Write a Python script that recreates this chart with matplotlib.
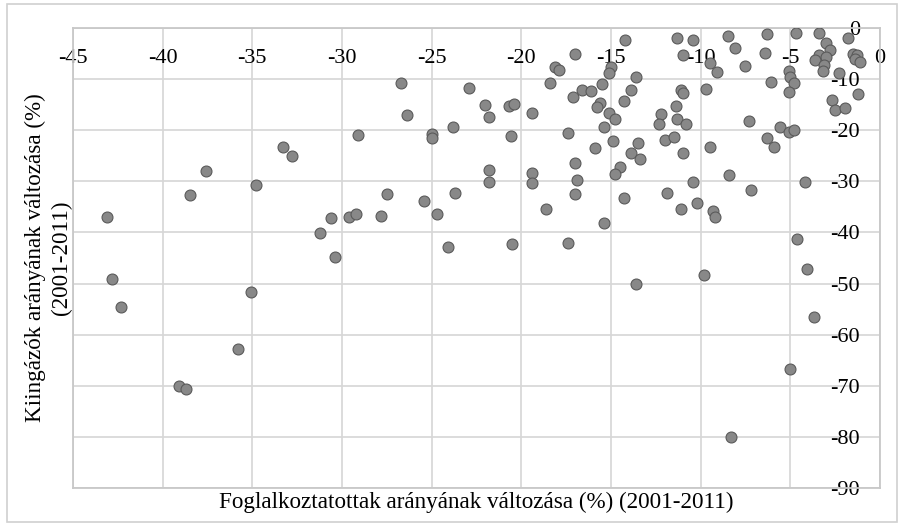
import matplotlib.pyplot as plt
from matplotlib.patches import Rectangle

# Foglalkoztatottak aranyanak valtozasa (%) es Kiingazok aranyanak valtozasa (%)
x_vals = [
    -43.1, -42.8, -42.3, -38.5, -37.6, -39.1, -38.7, -35.8, -35.1, -34.8, -33.3, -32.8,
    -31.2, -30.6, -30.4, -29.6, -29.2, -29.1, -27.8, -27.5, -26.7, -26.4, -25.4, -25.0,
    -25.0, -24.7, -24.1, -23.8, -23.7, -22.9, -22.0, -21.8, -21.8, -21.8, -20.7, -20.4,
    -20.6, -20.5, -19.4, -19.4, -19.4, -18.6, -18.4, -18.1, -17.9, -17.4, -17.4, -17.0,
    -17.1, -17.0, -16.9, -17.0,
    -14.2, -15.0, -15.1, -13.6, -15.5, -16.6, -16.1, -13.9, -14.3, -15.6, -15.8, -15.1,
    -14.8, -15.4, -11.3, -10.4, -11.0, -9.5, -11.1, -11.0, -9.7, -11.4, -12.2, -12.3,
    -11.3, -10.8, -15.9, -14.9, -13.5, -13.9, -13.4, -14.5, -14.8, -12.0, -11.5, -11.0,
    -9.5, -14.3, -11.9, -10.4, -10.2, -11.1, -15.4, -13.6, -9.8, -8.3,
    -8.5, -6.3, -4.7, -3.4, -1.8, -8.1, -6.4, -3.0, -2.8, -3.4, -3.0, -3.6,
    -3.1, -3.2, -1.5, -1.3, -1.4, -1.1, -9.1, -7.5, -5.1, -5.0, -4.8, -5.1,
    -6.1, -2.3, -1.2, -2.7, -2.5, -1.95, -7.3, -5.6, -5.1, -4.8, -6.3, -5.9,
    -8.4, -7.2, -4.2, -9.3, -9.2, -4.6, -4.05, -3.7, -5.0,
]
y_vals = [
    -36.9, -49.1, -54.6, -32.6, -28.0, -70.1, -70.6, -62.8, -51.7, -30.8, -23.3, -25.0,
    -40.1, -37.2, -44.8, -36.9, -36.3, -20.9, -36.7, -32.5, -10.8, -17.0, -33.8, -20.7,
    -21.5, -36.3, -42.8, -19.3, -32.2, -11.7, -15.1, -17.4, -27.7, -30.1, -15.2, -14.9,
    -21.1, -42.3, -16.6, -28.3, -30.4, -35.5, -10.7, -7.6, -8.2, -20.5, -42.0, -5.1,
    -13.6, -26.5, -29.7, -32.4,
    -2.3, -7.7, -8.9, -9.6, -11.0, -12.1, -12.3, -12.1, -14.3, -14.7, -15.4, -16.7,
    -17.8, -19.4, -1.9, -2.3, -5.3, -6.9, -12.1, -12.7, -12.0, -15.3, -16.9, -18.8,
    -17.9, -18.8, -23.5, -22.1, -22.6, -24.5, -25.6, -27.1, -28.6, -22.0, -21.4, -24.5,
    -23.3, -33.3, -32.2, -30.2, -34.2, -35.4, -38.2, -50.0, -48.3, -80.1,
    -1.6, -1.2, -0.9, -0.9, -1.9, -4.0, -4.8, -3.0, -4.3, -5.3, -5.7, -6.3,
    -7.2, -8.4, -5.0, -5.3, -6.1, -6.6, -8.7, -7.4, -8.5, -9.5, -10.7, -12.5,
    -10.6, -8.9, -12.9, -14.1, -16.0, -15.7, -18.2, -19.4, -20.3, -20.0, -21.6, -23.2,
    -28.8, -31.6, -30.1, -35.9, -37.0, -41.2, -47.2, -56.6, -66.7,
]
x_ticks = list(range(-45, 1, 5))
y_ticks = list(range(-90, 1, 10))

plt.rcParams['font.family'] = ['Liberation Serif', 'DejaVu Serif']
plt.rcParams['axes.unicode_minus'] = False

fig = plt.figure(figsize=(9.03, 5.27), dpi=100)
ax = fig.add_axes([0.0808, 0.074, 0.8937, 0.8729])

ax.scatter(x_vals, y_vals, s=62, color='#888888', edgecolors='#5a5a5a',
           linewidths=0.8, zorder=3)

ax.set_xlim(-45, 0)
ax.set_ylim(-90, 0)
ax.set_xticks(x_ticks)
ax.set_yticks(y_ticks)
ax.grid(True, color='#d6d6d6', linewidth=1.2)
ax.set_axisbelow(True)
for sp in ax.spines.values():
    sp.set_color('#c8c8c8')
    sp.set_linewidth(1.3)

# tengelyfeliratok a rajzterületen belül
ax.tick_params(axis='x', top=True, bottom=False, labeltop=True, labelbottom=False,
               length=0, pad=-22, labelsize=16)
ax.tick_params(axis='y', left=False, right=True, labelleft=False, labelright=True,
               length=0, pad=-14.5, labelsize=16)
for lbl in ax.get_xticklabels():
    lbl.set_va('center')
for lbl in ax.get_yticklabels():
    lbl.set_ha('right')

ax.set_xlabel("Foglalkoztatottak arányának változása (%) (2001-2011)", fontsize=16.7,
              labelpad=3)
ax.set_ylabel("Kiingázók arányának változása (%)\n(2001-2011)", fontsize=16.7,
              labelpad=1, linespacing=1.25)

fig.patches.append(Rectangle((0.008, 0.009), 0.985, 0.983, transform=fig.transFigure,
                             fill=False, edgecolor='#d0d0d0', linewidth=1.2))

plt.savefig('out.png', dpi=100)
